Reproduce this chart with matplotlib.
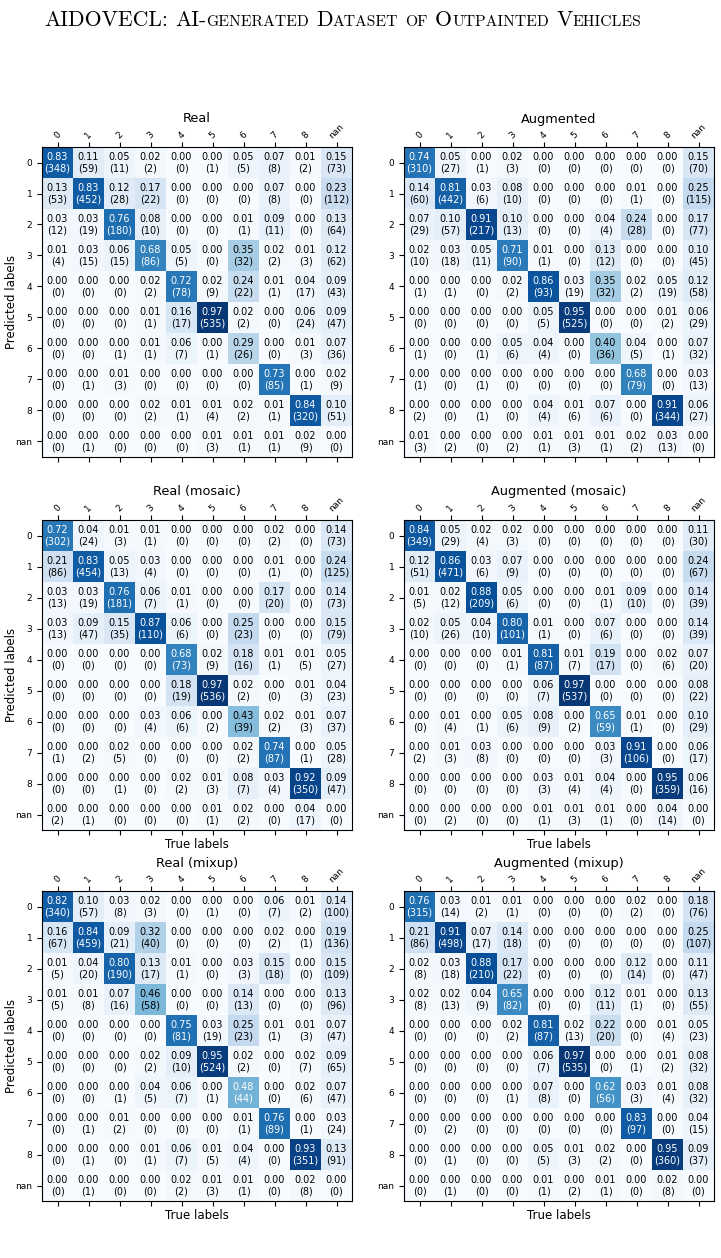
import numpy as np
import matplotlib
matplotlib.use("Agg")
import matplotlib.pyplot as plt

labels = ["0", "1", "2", "3", "4", "5", "6", "7", "8", "nan"]

real_prop = [
    [0.83, 0.11, 0.05, 0.02, 0.00, 0.00, 0.05, 0.07, 0.01, 0.15],
    [0.13, 0.83, 0.12, 0.17, 0.00, 0.00, 0.00, 0.07, 0.00, 0.23],
    [0.03, 0.03, 0.76, 0.08, 0.00, 0.00, 0.01, 0.09, 0.00, 0.13],
    [0.01, 0.03, 0.06, 0.68, 0.05, 0.00, 0.35, 0.02, 0.01, 0.12],
    [0.00, 0.00, 0.00, 0.02, 0.72, 0.02, 0.24, 0.01, 0.04, 0.09],
    [0.00, 0.00, 0.00, 0.01, 0.16, 0.97, 0.02, 0.00, 0.06, 0.09],
    [0.00, 0.00, 0.00, 0.01, 0.06, 0.00, 0.29, 0.00, 0.01, 0.07],
    [0.00, 0.00, 0.01, 0.00, 0.00, 0.00, 0.00, 0.73, 0.00, 0.02],
    [0.00, 0.00, 0.00, 0.02, 0.01, 0.01, 0.02, 0.01, 0.84, 0.10],
    [0.00, 0.00, 0.00, 0.00, 0.00, 0.01, 0.01, 0.01, 0.02, 0.00],
]
real_counts = [
    [348, 59, 11, 2, 0, 1, 5, 8, 2, 73],
    [53, 452, 28, 22, 0, 0, 0, 8, 0, 112],
    [12, 19, 180, 10, 0, 0, 1, 11, 0, 64],
    [4, 15, 15, 86, 5, 0, 32, 2, 3, 62],
    [0, 0, 0, 2, 78, 9, 22, 1, 17, 43],
    [0, 0, 0, 1, 17, 535, 2, 0, 24, 47],
    [0, 0, 1, 1, 7, 1, 26, 0, 3, 36],
    [0, 1, 3, 0, 0, 0, 0, 85, 1, 9],
    [0, 0, 0, 2, 1, 4, 2, 1, 320, 51],
    [0, 1, 0, 0, 0, 3, 1, 1, 9, 0],
]

aug_prop = [
    [0.74, 0.05, 0.00, 0.02, 0.00, 0.00, 0.00, 0.00, 0.00, 0.15],
    [0.14, 0.81, 0.03, 0.08, 0.00, 0.00, 0.00, 0.01, 0.00, 0.25],
    [0.07, 0.10, 0.91, 0.10, 0.00, 0.00, 0.04, 0.24, 0.00, 0.17],
    [0.02, 0.03, 0.05, 0.71, 0.01, 0.00, 0.13, 0.00, 0.00, 0.10],
    [0.00, 0.00, 0.00, 0.02, 0.86, 0.03, 0.35, 0.02, 0.05, 0.12],
    [0.00, 0.00, 0.00, 0.00, 0.05, 0.95, 0.00, 0.00, 0.01, 0.06],
    [0.00, 0.00, 0.00, 0.05, 0.04, 0.00, 0.40, 0.04, 0.00, 0.07],
    [0.00, 0.00, 0.00, 0.00, 0.00, 0.00, 0.00, 0.68, 0.00, 0.03],
    [0.00, 0.00, 0.00, 0.00, 0.04, 0.01, 0.07, 0.00, 0.91, 0.06],
    [0.01, 0.00, 0.00, 0.00, 0.01, 0.01, 0.01, 0.02, 0.03, 0.00],
]
aug_counts = [
    [310, 27, 1, 3, 0, 0, 0, 0, 0, 70],
    [60, 442, 6, 10, 0, 0, 0, 1, 0, 115],
    [29, 57, 217, 13, 0, 0, 4, 28, 0, 77],
    [10, 18, 11, 90, 1, 0, 12, 0, 0, 45],
    [1, 1, 0, 2, 93, 19, 32, 2, 19, 58],
    [0, 0, 0, 0, 5, 525, 0, 0, 2, 29],
    [1, 0, 1, 6, 4, 0, 36, 5, 1, 32],
    [1, 0, 1, 0, 0, 0, 0, 79, 0, 13],
    [2, 0, 1, 0, 4, 6, 6, 0, 344, 27],
    [3, 2, 0, 2, 1, 3, 1, 2, 13, 0],
]

real_mosaic_prop = [
    [0.72, 0.04, 0.01, 0.01, 0.00, 0.00, 0.00, 0.02, 0.00, 0.14],
    [0.21, 0.83, 0.05, 0.03, 0.00, 0.00, 0.00, 0.01, 0.00, 0.24],
    [0.03, 0.03, 0.76, 0.06, 0.01, 0.00, 0.00, 0.17, 0.00, 0.14],
    [0.03, 0.09, 0.15, 0.87, 0.06, 0.00, 0.25, 0.00, 0.00, 0.15],
    [0.00, 0.00, 0.00, 0.00, 0.68, 0.02, 0.18, 0.01, 0.01, 0.05],
    [0.00, 0.00, 0.00, 0.00, 0.18, 0.97, 0.02, 0.00, 0.01, 0.04],
    [0.00, 0.00, 0.00, 0.03, 0.06, 0.00, 0.43, 0.02, 0.01, 0.07],
    [0.00, 0.00, 0.02, 0.00, 0.00, 0.00, 0.02, 0.74, 0.00, 0.05],
    [0.00, 0.00, 0.00, 0.00, 0.02, 0.01, 0.08, 0.03, 0.92, 0.09],
    [0.00, 0.00, 0.00, 0.00, 0.00, 0.01, 0.02, 0.00, 0.04, 0.00],
]
real_mosaic_counts = [
    [302, 24, 3, 1, 0, 0, 0, 2, 0, 73],
    [86, 454, 13, 4, 0, 0, 0, 1, 0, 125],
    [13, 19, 181, 7, 1, 0, 0, 20, 0, 73],
    [13, 47, 35, 110, 6, 0, 23, 0, 0, 79],
    [0, 0, 0, 0, 73, 9, 16, 1, 5, 27],
    [0, 0, 0, 0, 19, 536, 2, 0, 3, 23],
    [0, 0, 0, 4, 6, 2, 39, 2, 3, 37],
    [1, 2, 5, 0, 0, 0, 2, 87, 1, 28],
    [0, 0, 1, 0, 2, 3, 7, 4, 350, 47],
    [2, 1, 0, 0, 0, 1, 2, 0, 17, 0],
]

aug_mosaic_prop = [
    [0.84, 0.05, 0.02, 0.02, 0.00, 0.00, 0.00, 0.00, 0.00, 0.11],
    [0.12, 0.86, 0.03, 0.07, 0.00, 0.00, 0.00, 0.00, 0.00, 0.24],
    [0.01, 0.02, 0.88, 0.05, 0.00, 0.00, 0.01, 0.09, 0.00, 0.14],
    [0.02, 0.05, 0.04, 0.80, 0.01, 0.00, 0.07, 0.00, 0.00, 0.14],
    [0.00, 0.00, 0.00, 0.01, 0.81, 0.01, 0.19, 0.00, 0.02, 0.07],
    [0.00, 0.00, 0.00, 0.00, 0.06, 0.97, 0.00, 0.00, 0.00, 0.08],
    [0.00, 0.01, 0.00, 0.05, 0.08, 0.00, 0.65, 0.01, 0.00, 0.10],
    [0.00, 0.01, 0.03, 0.00, 0.00, 0.00, 0.03, 0.91, 0.00, 0.06],
    [0.00, 0.00, 0.00, 0.00, 0.03, 0.01, 0.04, 0.00, 0.95, 0.06],
    [0.00, 0.00, 0.00, 0.00, 0.01, 0.01, 0.01, 0.00, 0.04, 0.00],
]
aug_mosaic_counts = [
    [349, 29, 4, 3, 0, 0, 0, 0, 0, 30],
    [51, 471, 6, 9, 0, 0, 0, 0, 0, 67],
    [5, 12, 209, 6, 0, 0, 1, 10, 0, 39],
    [10, 26, 10, 101, 1, 0, 6, 0, 0, 39],
    [0, 0, 0, 1, 87, 7, 17, 0, 6, 20],
    [0, 0, 0, 0, 7, 537, 0, 0, 0, 22],
    [0, 4, 1, 6, 9, 2, 59, 1, 0, 29],
    [2, 3, 8, 0, 0, 0, 3, 106, 0, 17],
    [0, 0, 0, 0, 3, 4, 4, 0, 359, 16],
    [0, 2, 0, 0, 1, 3, 1, 0, 14, 0],
]

real_mixup_prop = [
    [0.82, 0.10, 0.03, 0.02, 0.00, 0.00, 0.00, 0.06, 0.01, 0.14],
    [0.16, 0.84, 0.09, 0.32, 0.00, 0.00, 0.00, 0.02, 0.00, 0.19],
    [0.01, 0.04, 0.80, 0.13, 0.01, 0.00, 0.03, 0.15, 0.00, 0.15],
    [0.01, 0.01, 0.07, 0.46, 0.00, 0.00, 0.14, 0.00, 0.00, 0.13],
    [0.00, 0.00, 0.00, 0.00, 0.75, 0.03, 0.25, 0.01, 0.01, 0.07],
    [0.00, 0.00, 0.00, 0.02, 0.09, 0.95, 0.02, 0.00, 0.02, 0.09],
    [0.00, 0.00, 0.00, 0.04, 0.06, 0.00, 0.48, 0.00, 0.02, 0.07],
    [0.00, 0.00, 0.01, 0.00, 0.00, 0.00, 0.01, 0.76, 0.00, 0.03],
    [0.00, 0.00, 0.00, 0.01, 0.06, 0.01, 0.04, 0.00, 0.93, 0.13],
    [0.00, 0.00, 0.00, 0.00, 0.02, 0.01, 0.01, 0.00, 0.02, 0.00],
]
real_mixup_counts = [
    [340, 57, 8, 3, 0, 1, 0, 7, 2, 100],
    [67, 459, 21, 40, 0, 0, 0, 2, 1, 136],
    [5, 20, 190, 17, 1, 0, 3, 18, 0, 109],
    [5, 8, 16, 58, 0, 0, 13, 0, 0, 96],
    [0, 0, 0, 0, 81, 19, 23, 1, 3, 47],
    [0, 0, 0, 2, 10, 524, 2, 0, 7, 65],
    [0, 0, 1, 5, 7, 1, 44, 0, 6, 47],
    [0, 1, 2, 0, 0, 0, 1, 89, 1, 24],
    [0, 1, 0, 1, 7, 5, 4, 0, 351, 91],
    [0, 1, 0, 0, 2, 3, 1, 0, 8, 0],
]

aug_mixup_prop = [
    [0.76, 0.03, 0.01, 0.01, 0.00, 0.00, 0.00, 0.02, 0.00, 0.18],
    [0.21, 0.91, 0.07, 0.14, 0.00, 0.00, 0.00, 0.00, 0.00, 0.25],
    [0.02, 0.03, 0.88, 0.17, 0.00, 0.00, 0.00, 0.12, 0.00, 0.11],
    [0.02, 0.02, 0.04, 0.65, 0.00, 0.00, 0.12, 0.01, 0.00, 0.13],
    [0.00, 0.00, 0.00, 0.02, 0.81, 0.02, 0.22, 0.00, 0.01, 0.05],
    [0.00, 0.00, 0.00, 0.00, 0.06, 0.97, 0.00, 0.00, 0.01, 0.08],
    [0.00, 0.00, 0.00, 0.00, 0.07, 0.00, 0.62, 0.03, 0.01, 0.08],
    [0.00, 0.00, 0.00, 0.00, 0.00, 0.00, 0.00, 0.83, 0.00, 0.04],
    [0.00, 0.00, 0.00, 0.00, 0.05, 0.01, 0.02, 0.00, 0.95, 0.09],
    [0.00, 0.00, 0.00, 0.00, 0.01, 0.00, 0.01, 0.00, 0.02, 0.00],
]
aug_mixup_counts = [
    [315, 14, 2, 1, 0, 0, 0, 2, 0, 76],
    [86, 498, 17, 18, 0, 0, 0, 0, 0, 107],
    [8, 18, 210, 22, 0, 0, 0, 14, 0, 47],
    [8, 13, 9, 82, 0, 0, 11, 1, 0, 55],
    [0, 0, 0, 2, 87, 13, 20, 0, 4, 23],
    [0, 0, 0, 0, 7, 535, 0, 1, 2, 32],
    [0, 0, 0, 1, 8, 0, 56, 3, 4, 32],
    [0, 2, 0, 0, 0, 0, 0, 97, 0, 15],
    [0, 1, 0, 0, 5, 3, 2, 0, 360, 37],
    [0, 1, 0, 0, 1, 2, 1, 0, 8, 0],
]

W, H = 721, 1258
fig = plt.figure(figsize=(W / 100, H / 100), dpi=100)


def px_rect(left, top, w, h):
    return [left / W, 1 - (top + h) / H, w / W, h / H]


def draw(left, top, size, prop, counts, title, ylabel, xlabel):
    ax = fig.add_axes(px_rect(left, top, size, size))
    P = np.array(prop)
    C = np.array(counts)
    ax.imshow(P, cmap="Blues", vmin=0, vmax=1, aspect="auto", interpolation="nearest")
    thr = P.max() / 2
    for i in range(P.shape[0]):
        for j in range(P.shape[1]):
            ax.text(j, i, f"{P[i, j]:.2f}\n({C[i, j]})", ha="center", va="center",
                    fontsize=7.0, color="white" if P[i, j] > thr else "black")
    ax.set_xticks(range(len(labels)))
    ax.set_yticks(range(len(labels)))
    ax.set_xticklabels(labels, rotation=45, ha="center", va="bottom")
    ax.set_yticklabels(labels)
    ax.tick_params(axis="x", top=True, labeltop=True, bottom=True, labelbottom=False,
                   labelsize=6.5, pad=1.5)
    ax.tick_params(axis="y", labelsize=6.5)
    fig.text((left + size / 2) / W, 1 - (top - 28) / H, title, fontsize=9.3,
             ha="center", va="center")
    if ylabel:
        fig.text(12 / W, 1 - (top + size / 2) / H, "Predicted labels", fontsize=8.5,
                 rotation=90, ha="center", va="center")
    if xlabel:
        ax.set_xlabel("True labels", fontsize=8.5, labelpad=2)
    return ax


L1, L2 = 42, 404
S = 310
tops = [147, 520, 891]
draw(L1, tops[0], S, real_prop, real_counts, "Real", True, False)
draw(L2, tops[0], S, aug_prop, aug_counts, "Augmented", False, False)
draw(L1, tops[1], S, real_mosaic_prop, real_mosaic_counts, "Real (mosaic)", True, True)
draw(L2, tops[1], S, aug_mosaic_prop, aug_mosaic_counts, "Augmented (mosaic)", False, True)
draw(L1, tops[2], S, real_mixup_prop, real_mixup_counts, "Real (mixup)", True, True)
draw(L2, tops[2], S, aug_mixup_prop, aug_mixup_counts, "Augmented (mixup)", False, True)

# Small-caps main title
pieces = [("AIDOVECL:", 1, True), ("AI-", 1, False), ("GENERATED", 0, True),
          ("D", 1, False), ("ATASET", 0, True), ("OF", 0, True),
          ("O", 1, False), ("UTPAINTED", 0, True), ("V", 1, False), ("EHICLES", 0, False)]
big, ratio = 20.0, 0.72
fig.canvas.draw()
renderer = fig.canvas.get_renderer()


def layout(big_size):
    xs, x = [], 0.0
    for txt, isbig, space in pieces:
        fsize = big_size if isbig else big_size * ratio
        t = fig.text(0, 0, txt, fontsize=fsize, family="cmr10")
        w = t.get_window_extent(renderer).width
        t.remove()
        xs.append((txt, fsize, x))
        x += w
        if space:
            x += 0.333 * big_size * 100 / 72
    return xs, x


target_left, target_width, baseline = 44, 596, 26
_, tot = layout(big)
big = big * target_width / tot
xs, tot = layout(big)
for txt, fsize, x in xs:
    fig.text((target_left + x) / W, 1 - baseline / H, txt, fontsize=fsize, family="cmr10",
             va="baseline", ha="left")

fig.savefig("out.png", dpi=100)
